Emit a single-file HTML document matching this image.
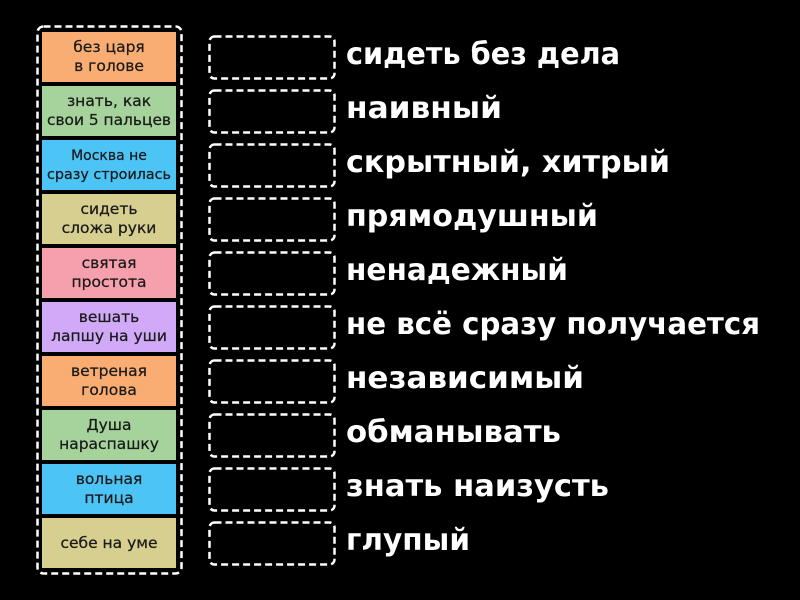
<!DOCTYPE html>
<html><head><meta charset="utf-8"><style>
html,body{margin:0;padding:0;background:#000;width:800px;height:600px;overflow:hidden}
svg{display:block}
.t{font-family:"DejaVu Sans","Liberation Sans",sans-serif;font-size:15.5px;fill:#1a1a1a;text-anchor:middle;stroke:#1a1a1a;stroke-width:0.25}
.r{font-family:"DejaVu Sans","Liberation Sans",sans-serif;font-size:30px;font-weight:bold;fill:#fff}
</style></head><body>
<svg width="800" height="600" viewBox="0 0 800 600" xmlns="http://www.w3.org/2000/svg">
<rect width="800" height="600" fill="#000"/>
<rect x="37.5" y="26.5" width="144" height="547" rx="6" fill="none" stroke="#fff" stroke-width="2.5" stroke-dasharray="7,4"/>
<g>
<rect x="42" y="32" width="134" height="50" fill="#f9ad72"/>
<rect x="42" y="86" width="134" height="50" fill="#a6d39c"/>
<rect x="42" y="140" width="134" height="50" fill="#4cc4f6"/>
<rect x="42" y="194" width="134" height="50" fill="#d6cf8f"/>
<rect x="42" y="248" width="134" height="50" fill="#f7a0ad"/>
<rect x="42" y="302" width="134" height="50" fill="#d0aaf8"/>
<rect x="42" y="356" width="134" height="50" fill="#f9ad72"/>
<rect x="42" y="410" width="134" height="50" fill="#a6d39c"/>
<rect x="42" y="464" width="134" height="50" fill="#4cc4f6"/>
<rect x="42" y="518" width="134" height="50" fill="#d6cf8f"/>
</g>
<g class="t">
<text x="109" y="52">без царя</text><text x="109" y="71">в голове</text>
<text x="109" y="106">знать, как</text><text x="109" y="125" textLength="124" lengthAdjust="spacingAndGlyphs">свои 5 пальцев</text>
<text x="109" y="160" style="font-size:14px">Москва не</text><text x="109" y="179" textLength="124" lengthAdjust="spacingAndGlyphs" style="font-size:14px">сразу строилась</text>
<text x="109" y="214">сидеть</text><text x="109" y="233">сложа руки</text>
<text x="109" y="268">святая</text><text x="109" y="287">простота</text>
<text x="109" y="322">вешать</text><text x="109" y="341">лапшу на уши</text>
<text x="109" y="376">ветреная</text><text x="109" y="395">голова</text>
<text x="109" y="430">Душа</text><text x="109" y="449">нараспашку</text>
<text x="109" y="484">вольная</text><text x="109" y="503">птица</text>
<text x="109" y="548">себе на уме</text>
</g>
<g fill="none" stroke="#fff" stroke-width="2.5" stroke-dasharray="7,4">
<rect x="209.5" y="36.5" width="125" height="42" rx="5"/>
<rect x="209.5" y="90.5" width="125" height="42" rx="5"/>
<rect x="209.5" y="144.5" width="125" height="42" rx="5"/>
<rect x="209.5" y="198.5" width="125" height="42" rx="5"/>
<rect x="209.5" y="252.5" width="125" height="42" rx="5"/>
<rect x="209.5" y="306.5" width="125" height="42" rx="5"/>
<rect x="209.5" y="360.5" width="125" height="42" rx="5"/>
<rect x="209.5" y="414.5" width="125" height="42" rx="5"/>
<rect x="209.5" y="468.5" width="125" height="42" rx="5"/>
<rect x="209.5" y="522.5" width="125" height="42" rx="5"/>
</g>
<g class="r">
<text x="346" y="64" textLength="274" lengthAdjust="spacingAndGlyphs">сидеть без дела</text>
<text x="346" y="118" textLength="156" lengthAdjust="spacingAndGlyphs">наивный</text>
<text x="346" y="172" textLength="324" lengthAdjust="spacingAndGlyphs">скрытный, хитрый</text>
<text x="346" y="226" textLength="252" lengthAdjust="spacingAndGlyphs">прямодушный</text>
<text x="346" y="280" textLength="222" lengthAdjust="spacingAndGlyphs">ненадежный</text>
<text x="346" y="334" textLength="414" lengthAdjust="spacingAndGlyphs">не всё сразу получается</text>
<text x="346" y="388" textLength="238" lengthAdjust="spacingAndGlyphs">независимый</text>
<text x="346" y="442" textLength="215" lengthAdjust="spacingAndGlyphs">обманывать</text>
<text x="346" y="496" textLength="263" lengthAdjust="spacingAndGlyphs">знать наизусть</text>
<text x="346" y="550" textLength="124" lengthAdjust="spacingAndGlyphs">глупый</text>
</g>
</svg>
</body></html>
